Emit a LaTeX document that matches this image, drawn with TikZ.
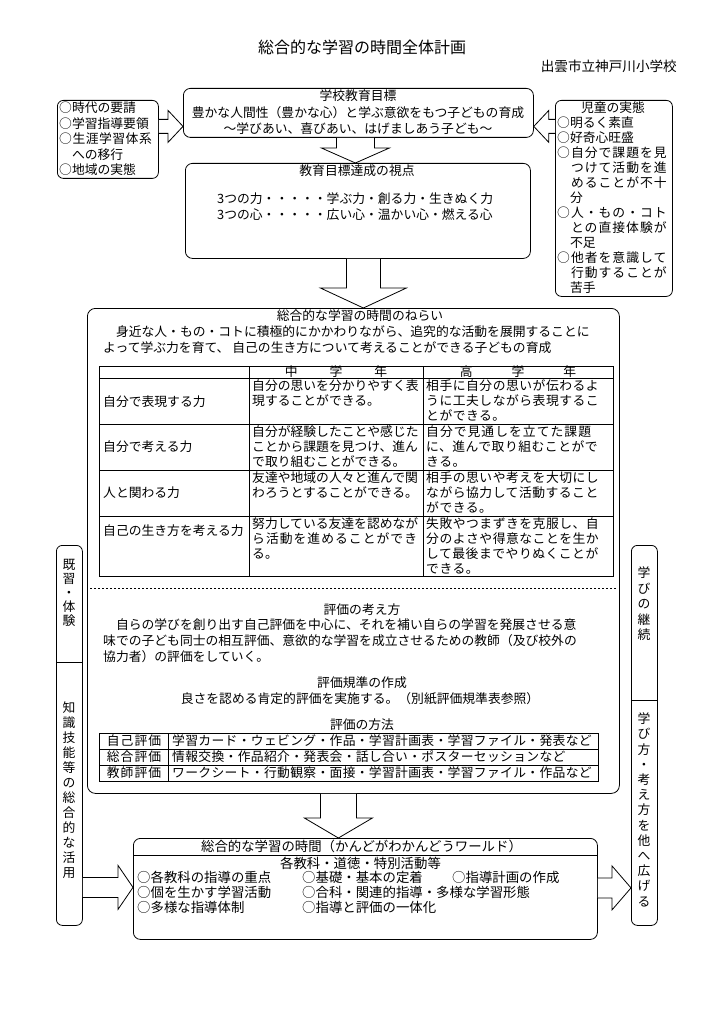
\documentclass[tikz,border=0pt]{standalone}
\usepackage{fontspec}
\setmainfont{Noto Sans CJK JP}
\usetikzlibrary{calc}
\newcommand\bodyfs{\fontsize{12.8}{16}\selectfont}
\newcommand\myls[1]{{\addfontfeature{LetterSpace=8}#1}}
\newcommand\mylsb[1]{{\addfontfeature{LetterSpace=4}#1}}
\newcommand\mylsc[1]{{\addfontfeature{LetterSpace=2.5}#1}}
\tikzset{
 box/.style={draw, line width=0.8pt, rounded corners=7pt, inner sep=0pt, anchor=north west},
 txt/.style={inner sep=0pt, font=\bodyfs},
 wtxt/.style={inner sep=0pt, font=\fontsize{13.4}{15}\selectfont},
 tline/.style={line width=0.7pt},
 blk/.style={draw, line width=0.8pt, fill=white, line join=miter},
}
% block arrows between named nodes
\newcommand\blkdown[6]{%
 \draw[blk] let \p1=($(#1.south)+(#3,0)$), \p2=(#2.north) in
 (\x1-#4pt,\y1) -- (\x1-#4pt,\y2+#6pt) -- (\x1-#5pt,\y2+#6pt) -- (\x1,\y2)
 -- (\x1+#5pt,\y2+#6pt) -- (\x1+#4pt,\y2+#6pt) -- (\x1+#4pt,\y1);}
\newcommand\blkright[6]{%
 \draw[blk] let \p1=($(#1.east)+(0,#3)$), \p2=(#2.west) in
 (\x1,\y1+#4pt) -- (\x2-#6pt,\y1+#4pt) -- (\x2-#6pt,\y1+#5pt) -- (\x2,\y1)
 -- (\x2-#6pt,\y1-#5pt) -- (\x2-#6pt,\y1-#4pt) -- (\x1,\y1-#4pt);}
\newcommand\blkleft[6]{%
 \draw[blk] let \p1=($(#1.west)+(0,#3)$), \p2=(#2.east) in
 (\x1,\y1+#4pt) -- (\x2+#6pt,\y1+#4pt) -- (\x2+#6pt,\y1+#5pt) -- (\x2,\y1)
 -- (\x2+#6pt,\y1-#5pt) -- (\x2+#6pt,\y1-#4pt) -- (\x1,\y1-#4pt);}
\begin{document}
\begin{tikzpicture}[x=1pt,y=-1pt]
\useasboundingbox (0,0) rectangle (725,1024);
\fill[white] (0,0) rectangle (725,1024);

% title
\node[txt, font=\fontsize{16}{16}\selectfont] (title) at (362,47) {総合的な学習の時間全体計画};
\node[txt, font=\fontsize{13.6}{14}\selectfont, anchor=east] (school) at (677,66) {出雲市立神戸川小学校};

% school goal
\node[box, minimum width=350pt, minimum height=49pt] (goal) at (183,88) {};
\node[txt, align=center, anchor=north, font=\fontsize{12.8}{16.5}\selectfont] (goaltxt) at (358,89.7)
 {学校教育目標\\豊かな人間性（豊かな心）と学ぶ意欲をもつ子どもの育成\\〜学びあい、喜びあい、はげましあう子ども〜};

% needs of the times
\node[box, rounded corners=6pt, minimum width=101pt, minimum height=78pt] (need) at (57,100) {};
\node[txt, align=left, anchor=north west, font=\fontsize{12.8}{15.5}\selectfont] (needtxt) at (59,101.7)
 {○時代の要請\\○学習指導要領\\\mylsb{○生涯学習体系}\\　への移行\\○地域の実態};

% children
\node[box, rounded corners=6pt, minimum width=117pt, minimum height=196pt] (child) at (555,100) {};
\node[txt] (childttl) at (613,108) {児童の実態};
\node[txt, align=left, anchor=north west, font=\fontsize{12.8}{15}\selectfont] (childtxt) at (557,116.7)
 {○明るく素直\\○好奇心旺盛\\\myls{○自分で課題を見}\\\myls{　つけて活動を進}\\\myls{　めることが不十}\\　分\\\myls{○人・もの・コト}\\\myls{　との直接体験が}\\　不足\\\myls{○他者を意識して}\\\myls{　行動することが}\\　苦手};

\blkright{need}{goal}{-13}{7}{16}{15}
\blkleft{child}{goal}{-72}{7}{16}{15}

% viewpoints
\node[box, minimum width=345pt, minimum height=95pt] (view) at (185,163) {};
\node[txt] (viewttl) at (357,171) {教育目標達成の視点};
\node[txt, align=left, anchor=north west] (viewtxt) at (217,192.7)
 {3つの力・・・・・学ぶ力・創る力・生きぬく力\\3つの心・・・・・広い心・温かい心・燃える心};

% aims box
\node[box, rounded corners=8pt, minimum width=532pt, minimum height=485pt] (aim) at (87,308) {};
\node[txt] (aimttl) at (360,316) {総合的な学習の時間のねらい};
\node[txt, align=left, anchor=north west] (aimtxt) at (103,325.7)
 {　身近な人・もの・コトに積極的にかかわりながら、追究的な活動を展開することに\\よって学ぶ力を育て、 自己の生き方について考えることができる子どもの育成};

\blkdown{goal}{view}{-3}{19}{34}{15}
\blkdown{view}{aim}{5.5}{17}{43}{20}

% table
\draw[tline] (99,366) rectangle (613,576);
\draw[tline] (249,366) -- (249,576) (423,366) -- (423,576);
\draw[tline] (99,378) -- (613,378) (99,424) -- (613,424) (99,470) -- (613,470) (99,516) -- (613,516);
\node[txt] (h2) at (336,372) {中\hspace{32pt}学\hspace{32pt}年};
\node[txt] (h3) at (518,372) {高\hspace{39pt}学\hspace{39pt}年};
\node[txt, anchor=west] (r1) at (103,402) {自分で表現する力};
\node[txt, anchor=west] (r2) at (103,447) {自分で考える力};
\node[txt, anchor=west] (r3) at (103,493) {人と関わる力};
\node[txt, anchor=west] (r4) at (103,531) {自己の生き方を考える力};
\tikzset{cell/.style={txt, align=left, anchor=north west, font=\fontsize{12.8}{15}\selectfont}}
\node[cell] (c12) at (252,379.2) {自分の思いを分かりやすく表\\現することができる。};
\node[cell] (c13) at (426,379.2) {\mylsb{相手に自分の思いが伝わるよ}\\\mylsb{うに工夫しながら表現するこ}\\\mylsb{とができる。}};
\node[cell] (c22) at (252,425.2) {自分が経験したことや感じた\\ことから課題を見つけ、進ん\\で取り組むことができる。};
\node[cell] (c23) at (426,425.2) {\myls{自分で見通しを立てた課題}\\\mylsb{に、進んで取り組むことがで}\\\mylsb{きる。}};
\node[cell] (c32) at (252,471.2) {友達や地域の人々と進んで関\\わろうとすることができる。};
\node[cell] (c33) at (426,471.2) {\mylsb{相手の思いや考えを大切にし}\\\mylsb{ながら協力して活動すること}\\\mylsb{ができる。}};
\node[cell] (c42) at (252,517.2) {努力している友達を認めなが\\\myls{ら活動を進めることができ}\\る。};
\node[cell] (c43) at (426,517.2) {\mylsb{失敗やつまずきを克服し、自}\\\mylsb{分のよさや得意なことを生か}\\\mylsb{して最後までやりぬくことが}\\\mylsb{できる。}};

\draw[line width=0.5pt, dash pattern=on 2pt off 2pt] (90,588) -- (616,588);

% evaluation
\node[txt] (evttl) at (362,610) {評価の考え方};
\node[txt, align=left, anchor=north west] (evtxt) at (103,618.7)
 {　自らの学びを創り出す自己評価を中心に、それを補い自らの学習を発展させる意\\味での子ども同士の相互評価、意欲的な学習を成立させるための教師（及び校外の\\協力者）の評価をしていく。};
\node[txt] (stdttl) at (362,683) {評価規準の作成};
\node[txt] (stdtxt) at (360,699) {良さを認める肯定的評価を実施する。（別紙評価規準表参照）};
\node[txt] (mthttl) at (362,725) {評価の方法};
\draw[tline] (99,733) rectangle (598,781);
\draw[tline] (168,733) -- (168,781) (99,749) -- (598,749) (99,765) -- (598,765);
\node[txt] (m1a) at (134,741) {\myls{自己評価}};
\node[txt] (m2a) at (134,757) {\myls{総合評価}};
\node[txt] (m3a) at (134,773) {\myls{教師評価}};
\node[txt, anchor=west] (m1b) at (172,741) {\mylsc{学習カード・ウェビング・作品・学習計画表・学習ファイル・発表など}};
\node[txt, anchor=west] (m2b) at (172,757) {\mylsc{情報交換・作品紹介・発表会・話し合い・ポスターセッションなど}};
\node[txt, anchor=west] (m3b) at (172,773) {\mylsc{ワークシート・行動観察・面接・学習計画表・学習ファイル・作品など}};

% world box
\node[box, rounded corners=7pt, minimum width=464pt, minimum height=101pt] (wld) at (133,838) {};
\draw[tline] ($(wld.north west)+(0,17)$) -- ($(wld.north east)+(0,17)$);
\node[wtxt] (wldttl) at (361.5,846.5) {総合的な学習の時間（かんどがわかんどうワールド）};
\node[wtxt] (wldsub) at (360.5,863) {各教科・道徳・特別活動等};
\node[wtxt, anchor=west] (w11) at (137,877) {○各教科の指導の重点};
\node[wtxt, anchor=west] (w12) at (302,877) {○基礎・基本の定着};
\node[wtxt, anchor=west] (w13) at (452,877) {○指導計画の作成};
\node[wtxt, anchor=west] (w21) at (137,892) {○個を生かす学習活動};
\node[wtxt, anchor=west] (w22) at (302,892) {○合科・関連的指導・多様な学習形態};
\node[wtxt, anchor=west] (w31) at (137,907) {○多様な指導体制};
\node[wtxt, anchor=west] (w32) at (302,907) {○指導と評価の一体化};

\blkdown{aim}{wld}{-15}{18}{34}{20}

% side boxes
\node[box, rounded corners=6pt, minimum width=26pt, minimum height=380pt] (lv) at (56,545) {};
\draw[tline] ($(lv.north west)+(0,117)$) -- ($(lv.north east)+(0,117)$);
\node[txt, align=center, anchor=north, font=\fontsize{12.8}{14}\selectfont] (lvt1) at (69,558.7) {既\\習\\・\\体\\験};
\node[txt, align=center, anchor=north, font=\fontsize{12.8}{15}\selectfont] (lvt2) at (69,701.7) {知\\識\\技\\能\\等\\の\\総\\合\\的\\な\\活\\用};
\node[box, rounded corners=6pt, minimum width=26pt, minimum height=380pt] (rv) at (631,545) {};
\draw[tline] ($(rv.north west)+(0,155)$) -- ($(rv.north east)+(0,155)$);
\node[txt, align=center, anchor=north, font=\fontsize{12.8}{15.5}\selectfont] (rvt1) at (644,566.7) {学\\び\\の\\継\\続};
\node[txt, align=center, anchor=north, font=\fontsize{12.8}{15.2}\selectfont] (rvt2) at (644,712.7) {学\\び\\方\\・\\考\\え\\方\\を\\他\\へ\\広\\げ\\る};

\blkright{lv}{wld}{152}{10}{22}{15}
\blkright{wld}{rv}{-1}{10}{22}{19}
\end{tikzpicture}
\end{document}
